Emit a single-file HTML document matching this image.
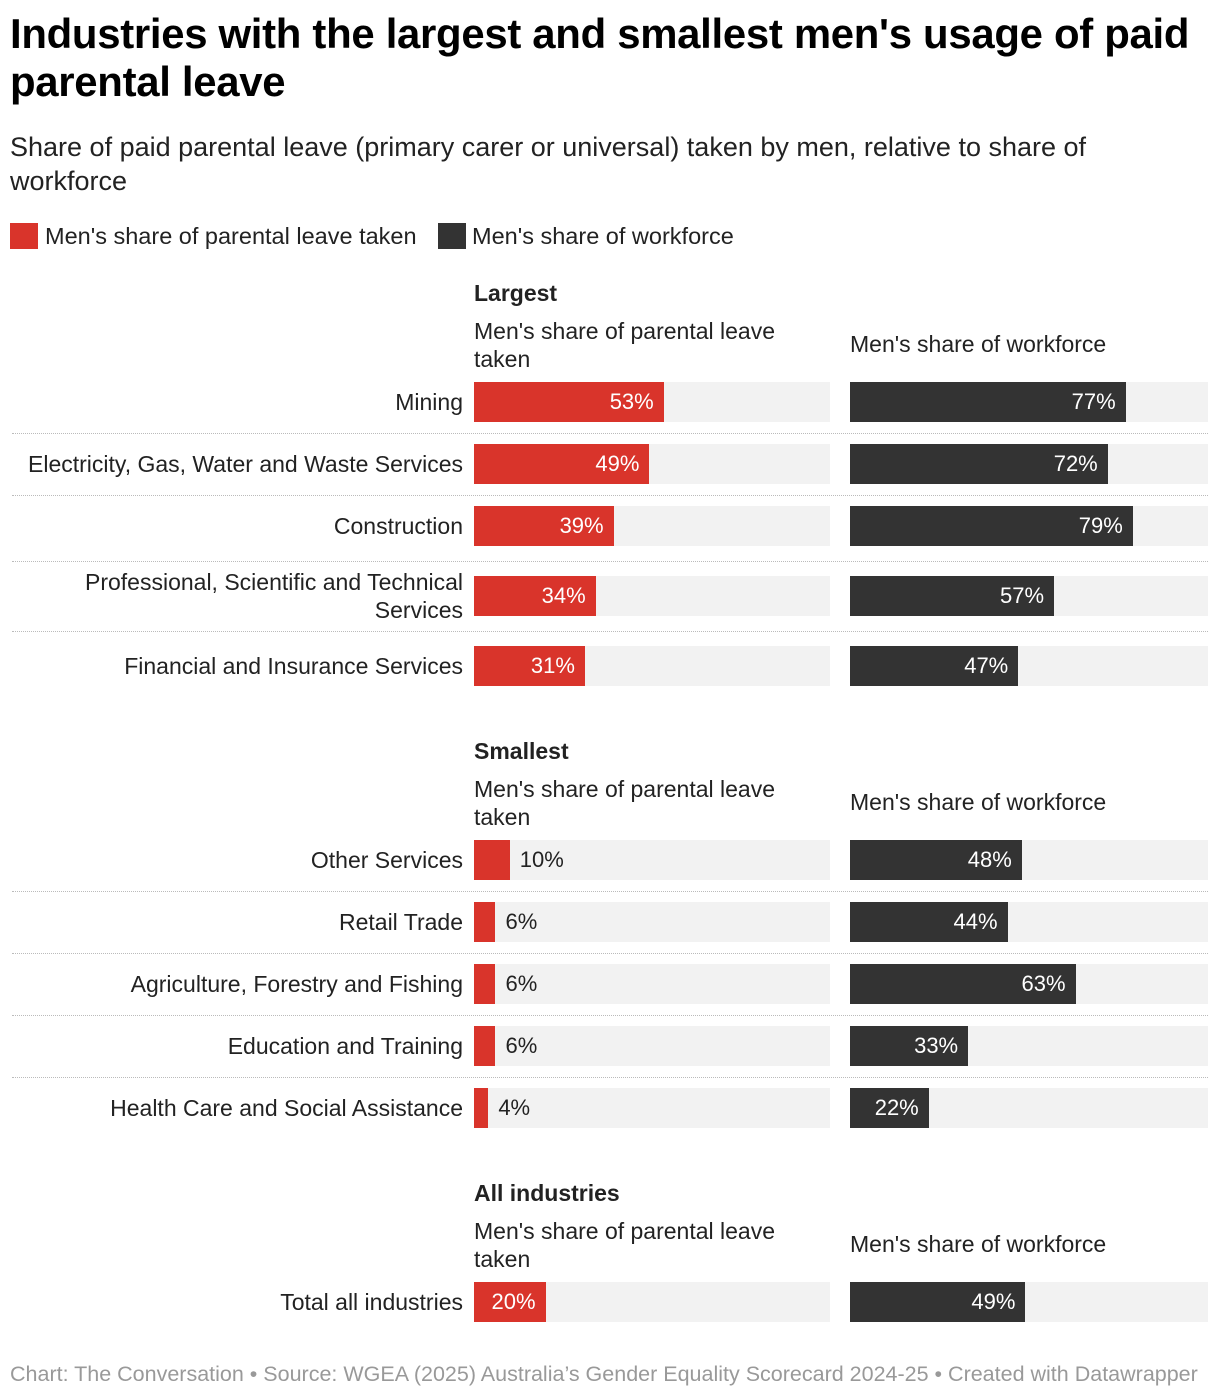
<!DOCTYPE html>
<html><head><meta charset="utf-8">
<style>
body{margin:0;width:1220px;height:1400px;background:#fff;font-family:"Liberation Sans",sans-serif;color:#222;position:relative;overflow:hidden}
.a{position:absolute}
h1{position:absolute;left:10px;top:10px;margin:0;font-size:41.9px;line-height:48px;font-weight:bold;color:#000;width:1205px;letter-spacing:-0.3px}
.sub{left:10px;top:130px;font-size:27px;line-height:34px;color:#222;width:1130px}
.lab{font-size:23px;line-height:28px;text-align:right;width:453px;left:10px}
.hdr{font-size:23px;line-height:27px}
.val{font-size:22px;line-height:40px}
.sep{left:12px;width:1196px;border-top:1px dotted #bbb;height:0}
.foot{left:10px;top:1362px;font-size:21.5px;color:#999;white-space:nowrap}
</style></head><body>
<h1>Industries with the largest and smallest men's usage of paid parental leave</h1>
<div class="a sub">Share of paid parental leave (primary carer or universal) taken by men, relative to share of workforce</div>
<div class="a" style="left:10px;top:223px;width:28px;height:26px;background:#d9342b"></div>
<div class="a hdr" style="left:45px;top:223px;font-size:23.5px">Men's share of parental leave taken</div>
<div class="a" style="left:438px;top:223px;width:28px;height:26px;background:#333"></div>
<div class="a hdr" style="left:472px;top:223px;font-size:23.5px">Men's share of workforce</div>
<div id="chart"></div>
<div class="a foot">Chart: The Conversation • Source: WGEA (2025) Australia’s Gender Equality Scorecard 2024-25 • Created with Datawrapper</div>
<script>
const categories=["Mining","Electricity, Gas, Water and Waste Services","Construction","Professional, Scientific and Technical Services","Financial and Insurance Services","Other Services","Retail Trade","Agriculture, Forestry and Fishing","Education and Training","Health Care and Social Assistance","Total all industries"];
const leaveShare=[53,49,39,34,31,10,6,6,6,4,20];
const workforceShare=[77,72,79,57,47,48,44,63,33,22,49];
const groupNames=["Largest","Smallest","All industries"];
const groupOf=[0,0,0,0,0,1,1,1,1,1,2];
const rowTops=[382,444,506,576,646,840,902,964,1026,1088,1282];
const groupTops=[280,738,1180];
const c=document.getElementById('chart');
const X1=474,X2=850,W=358;
function sx(v){return v/100*W;}
function add(html){const d=document.createElement('div');d.innerHTML=html;const e=d.firstChild;c.appendChild(e);return e;}
groupNames.forEach((g,i)=>{
  const t=groupTops[i];
  let e=add(`<div class="a hdr" style="left:${X1}px;top:${t}px;font-weight:bold">${g}</div>`);
  
  
  e=add(`<div class="a hdr" style="left:${X1}px;top:${t+37}px;width:340px;line-height:28px">Men's share of parental leave taken</div>`);
  
  
  e=add(`<div class="a hdr" style="left:${X2}px;top:${t+51}px">Men's share of workforce</div>`);
  
  
});
categories.forEach((cat,i)=>{
  const t=rowTops[i];
  const two=cat.length>45;
  const txt=two?cat.replace(' Services','<br>Services'):cat;
  let e=add(`<div class="a lab" style="top:${two?t-8:t+6}px">${txt}</div>`);
  
  
  [[X1,leaveShare[i],'#d9342b'],[X2,workforceShare[i],'#333']].forEach(([x0,v,col],k)=>{
    e=add(`<div class="a" style="left:${x0}px;top:${t}px;width:${k?W:356}px;height:40px;background:#f2f2f2"></div>`);
    
    
    const w=sx(v);
    e=add(`<div class="a" style="left:${x0}px;top:${t}px;width:${w}px;height:40px;background:${col}"></div>`);
    
    
    const inside=v>=15;
    e=add(inside?`<div class="a val" style="left:${x0}px;top:${t}px;width:${w-10}px;text-align:right;color:#fff">${v}%</div>`
               :`<div class="a val" style="left:${x0+w+10}px;top:${t}px;color:#222">${v}%</div>`);
    
    
  });
  if(i+1<categories.length && groupOf[i+1]===groupOf[i]){
    const y=(t+40+rowTops[i+1])/2;
    e=add(`<div class="a sep" style="top:${Math.round(y)}px"></div>`);
    
    
  }
});
</script>
</body></html>
